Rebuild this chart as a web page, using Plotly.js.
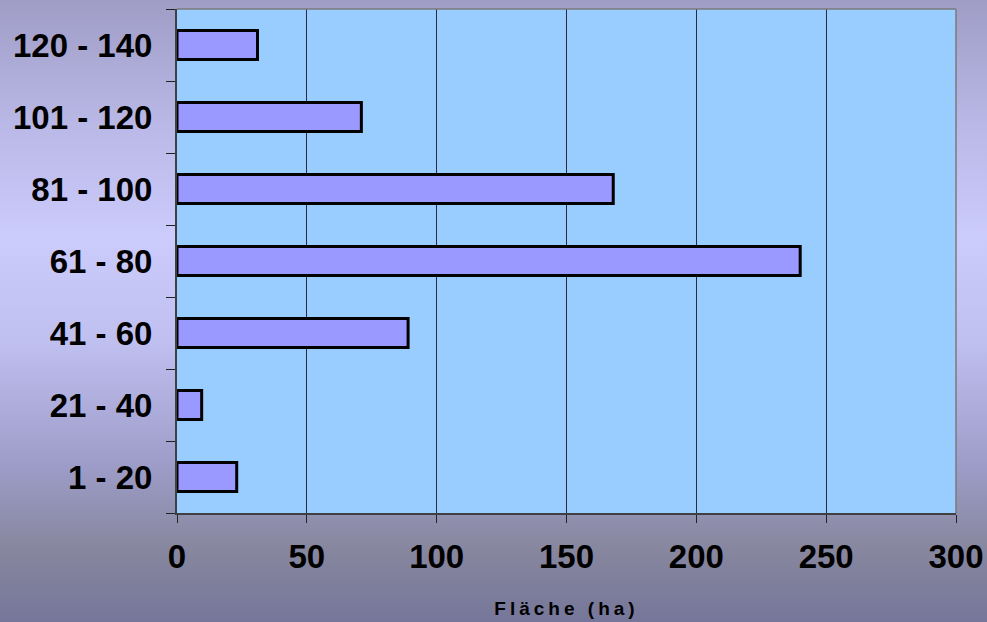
<!DOCTYPE html>
<html>
<head>
<meta charset="utf-8">
<script src="https://cdn.plot.ly/plotly-3.0.1.min.js"></script>
<style>
  html, body { margin: 0; padding: 0; }
  body { width: 987px; height: 622px; overflow: hidden;
    background: linear-gradient(to bottom, #9f9dc6 0%, #b9b8e6 20%, #cbcbfc 38%, #bfbff0 55%, #9d9cc8 75%, #87879f 88%, #76769a 100%); }
  #chart { width: 987px; height: 622px; }
</style>
</head>
<body>
<div id="chart"></div>
<script>
const categories = ["1 - 20", "21 - 40", "41 - 60", "61 - 80", "81 - 100", "101 - 120", "120 - 140"];
const flaeche = [23, 9.5, 89, 240, 168, 71, 31];
const xTickVals = [0, 50, 100, 150, 200, 250, 300];
const xTitle = "Fläche (ha)";

const trace = {
  type: "bar",
  orientation: "h",
  y: categories,
  x: flaeche,
  marker: { color: "#9999FF", line: { color: "#000000", width: 3 } },
  hoverinfo: "x+y"
};

const layout = {
  width: 987, height: 622,
  margin: { l: 177, r: 31, t: 9, b: 109 },
  paper_bgcolor: "rgba(0,0,0,0)",
  plot_bgcolor: "#99CCFF",
  bargap: 0.6,
  showlegend: false,
  font: { family: "Liberation Sans, Arial, sans-serif", color: "#000000" },
  xaxis: {
    range: [0, 300],
    tickvals: xTickVals,
    ticktext: xTickVals.map(String),
    showgrid: true, gridcolor: "#2a2a3a", gridwidth: 1,
    zeroline: false,
    showline: true, linecolor: "#404040", linewidth: 2,
    ticks: "outside", ticklen: 8, tickcolor: "#222", tickwidth: 1,
    tickfont: { size: 33, family: "Liberation Sans, Arial, sans-serif", weight: "bold" },
    ticklabelstandoff: 5,
    title: { text: xTitle, font: { size: 19, weight: "bold" }, standoff: 28 },
    fixedrange: true
  },
  yaxis: {
    type: "category",
    categoryorder: "array",
    categoryarray: categories,
    tickson: "boundaries",
    showgrid: false,
    zeroline: false,
    showline: true, linecolor: "#404040", linewidth: 2,
    ticks: "outside", ticklen: 9, tickcolor: "#222", tickwidth: 1,
    tickfont: { size: 33, family: "Liberation Sans, Arial, sans-serif", weight: "bold" },
    ticklabelstandoff: 16,
    fixedrange: true
  },
  shapes: [
    { type: "line", xref: "paper", yref: "paper", x0: 0, x1: 1, y0: 1, y1: 1, line: { color: "#7a7a7a", width: 1.5 } },
    { type: "line", xref: "paper", yref: "paper", x0: 1, x1: 1, y0: 0, y1: 1, line: { color: "#7a7a7a", width: 1.5 } }
  ]
};

Plotly.newPlot("chart", [trace], layout, { displayModeBar: false, staticPlot: true }).then(() => {
  document.querySelectorAll(".xtitle").forEach(el => el.style.letterSpacing = "4px");
});
</script>
</body>
</html>
